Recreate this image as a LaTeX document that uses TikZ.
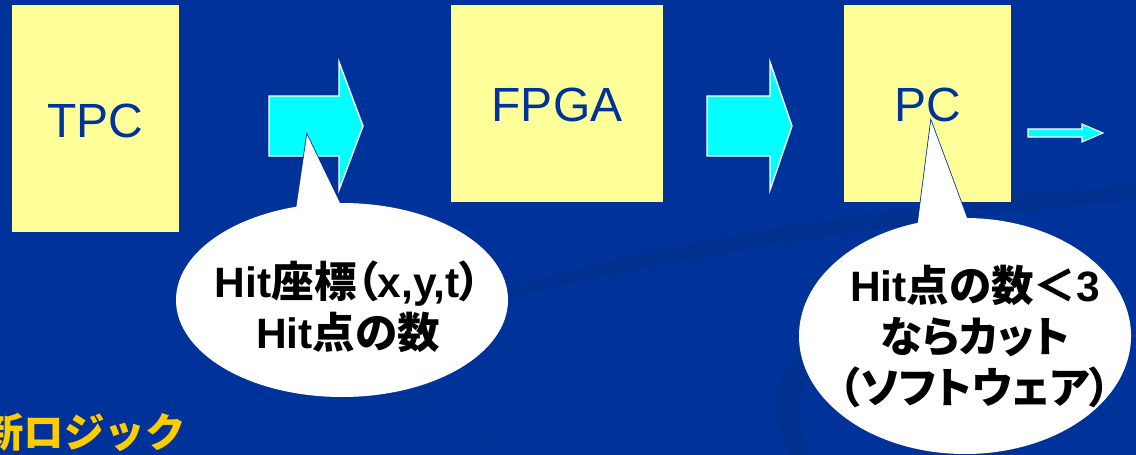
\documentclass[tikz,border=0pt]{standalone}
\usepackage{fontspec}
\setmainfont{Liberation Sans}
\newfontfamily\jp{Noto Sans CJK JP}[RawFeature=+palt]
\newfontfamily\jpn{Noto Sans CJK JP}
\newfontfamily\lat{Liberation Sans}
\definecolor{bg}{HTML}{003399}
\definecolor{boxy}{HTML}{FFFF99}
\definecolor{cyanA}{HTML}{00FFFF}
\definecolor{gold}{HTML}{FFCC00}
\begin{document}
\begin{tikzpicture}[x=1pt,y=-1pt,
  box/.style={fill=boxy,draw=none},
  boxlabel/.style={anchor=base,text=bg,font=\lat\fontsize{48}{50}\selectfont,inner sep=0pt},
  blockarrow/.style={fill=cyanA,draw=white,line width=1.4pt,line join=miter},
  bubbleline/.style={draw=bg,line width=1.6pt},
  bubblefill/.style={fill=white,draw=none},
  bubbletext/.style={align=center,text=black,inner sep=0pt,font=\jp\bfseries\fontsize{42.5}{51}\selectfont}]
\useasboundingbox (0,0) rectangle (1136,455);
\fill[bg] (0,0) rectangle (1136,455);
% faint background swooshes
\fill[black,opacity=0.06] (500,290) .. controls (700,230) and (950,200) .. (1136,185) -- (1136,200) .. controls (950,215) and (700,250) .. (500,300) -- cycle;
\fill[black,opacity=0.06] (790,455) .. controls (760,400) and (780,360) .. (830,330) -- (840,340) .. controls (800,370) and (790,410) .. (810,455) -- cycle;
\draw[black,opacity=0.07,line width=2pt] (380,392) .. controls (430,410) and (480,430) .. (520,445);
% boxes
\fill[box] (12,5) rectangle (179,232);
\node[boxlabel] (tpc) at (95.5,137) {TPC};
\fill[box] (451,5) rectangle (663,202);
\node[boxlabel] (fpga) at (557,121) {FPGA};
\fill[box] (844,5) rectangle (1011,202);
\node[boxlabel] (pc) at (927.5,121) {PC};
% block arrows
\draw[blockarrow] (269,96) -- (339,96) -- (339,62) -- (363,126) -- (339,190) -- (339,156) -- (269,156) -- cycle;
\draw[blockarrow] (707,96) -- (770,96) -- (770,62) -- (792,126) -- (770,190) -- (770,156) -- (707,156) -- cycle;
\draw[blockarrow,line width=1.1pt] (1028,129) -- (1082,129) -- (1082,124) -- (1103,133) -- (1082,142) -- (1082,137) -- (1028,137) -- cycle;
% bubble 1
\coordinate (t1) at (307,135);
\coordinate (e1) at (342,300);
\path[bubbleline] (t1) -- (293,230) -- (353,230) -- cycle;
\path[bubbleline] (e1) ellipse[x radius=166,y radius=97];
\path[bubblefill] (t1) -- (293,230) -- (353,230) -- cycle;
\path[bubblefill] (e1) ellipse[x radius=166,y radius=97];
\node[bubbletext] (b1) at (348,307) {{\lat\bfseries Hit}座標（{\lat\bfseries x,y,t}）\\{\lat\bfseries Hit}点の数};
% bubble 2
\coordinate (t2) at (931,121);
\coordinate (e2) at (965,336);
\path[bubbleline] (t2) -- (915,245) -- (977,245) -- cycle;
\path[bubbleline] (e2) ellipse[x radius=166,y radius=118];
\path[bubblefill] (t2) -- (915,245) -- (977,245) -- cycle;
\path[bubblefill] (e2) ellipse[x radius=166,y radius=118];
\node[bubbletext] (b2) at (975,336) {{\lat\bfseries Hit}点の数＜{\lat\bfseries 3}\\ならカット\\（ソフトウェア）};
% bottom-left heading (cut by the page edge)
\begin{scope}
\clip (0,0) rectangle (1136,455);
\node[anchor=base west,inner sep=0pt,text=gold,font=\jpn\bfseries\fontsize{40.5}{42}\selectfont] (title) at (-17,447) {新ロジック};
\end{scope}
\end{tikzpicture}
\end{document}
